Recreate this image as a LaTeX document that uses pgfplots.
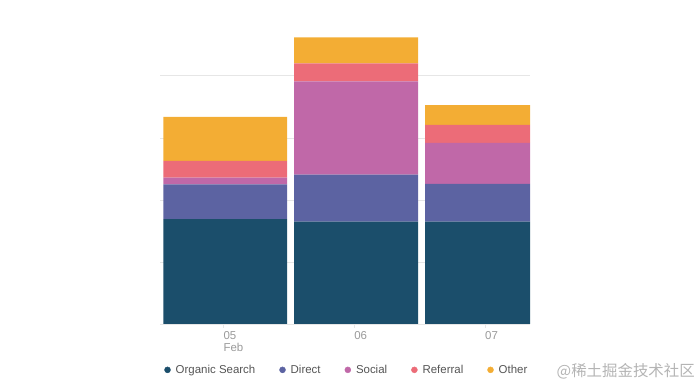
\documentclass[border=0pt]{standalone}
\usepackage{pgfplots}
\pgfplotsset{compat=1.18}
\usepackage{fontspec}
\setmainfont{Liberation Sans}
\newfontfamily\cjk{Noto Sans CJK SC}
\definecolor{c1}{HTML}{1B4E6B}
\definecolor{c2}{HTML}{5C63A2}
\definecolor{c3}{HTML}{C068A8}
\definecolor{c4}{HTML}{EC6C78}
\definecolor{c5}{HTML}{F3AD34}
\definecolor{gridc}{HTML}{E6E6E6}
\definecolor{tickc}{HTML}{9A9A9A}
\definecolor{legc}{HTML}{555555}
\definecolor{wmc}{HTML}{B4B4B4}
\begin{document}
\begin{tikzpicture}
\path[use as bounding box] (0,0) rectangle (700bp,392bp);
\begin{axis}[
  at={(160bp,68bp)}, anchor=south west,
  scale only axis, width=370bp, height=294bp,
  xmin=-0.484, xmax=2.344, ymin=0, ymax=474,
  ybar stacked, bar width=0.947,
  axis line style={draw=none},
  ytick={0,100,200,300,400}, yticklabels={}, ytick style={draw=none},
  ymajorgrids, grid style={gridc, line width=0.8pt},
  xtick={0,1,2}, xticklabels={05\\Feb,06,07},
  xtick pos=bottom, tick align=outside, major tick length=4bp,
  xtick style={gridc, line width=0.8pt},
  xticklabel style={anchor=north west, inner xsep=0pt, align=left, text=tickc, font=\fontsize{11.5}{12}\selectfont},
  legend columns=5,
  legend style={draw=none, fill=none, at={(0.505,-0.156)}, anchor=center,
    font=\fontsize{11.5}{13}\selectfont, text=legc,
    /tikz/every odd column/.append style={column sep=3bp},
    /tikz/every even column/.append style={column sep=22bp}},
]
\addplot[fill=c1, draw=none, forget plot] coordinates {(0.015,169) (1.015,165) (2.015,165)};
\addplot[fill=c2, draw=none, forget plot] coordinates {(0.015,56) (1.015,76) (2.015,61)};
\addplot[fill=c3, draw=none, forget plot] coordinates {(0.015,11) (1.015,150) (2.015,66)};
\addplot[fill=c4, draw=none, forget plot] coordinates {(0.015,27) (1.015,29) (2.015,29)};
\addplot[fill=c5, draw=none, forget plot] coordinates {(0.015,71) (1.015,42) (2.015,32)};
\addlegendimage{legend image code/.code={\fill[c1] (0pt,0pt) circle (3bp);}}
\addlegendentry{Organic Search}
\addlegendimage{legend image code/.code={\fill[c2] (0pt,0pt) circle (3bp);}}
\addlegendentry{Direct}
\addlegendimage{legend image code/.code={\fill[c3] (0pt,0pt) circle (3bp);}}
\addlegendentry{Social}
\addlegendimage{legend image code/.code={\fill[c4] (0pt,0pt) circle (3bp);}}
\addlegendentry{Referral}
\addlegendimage{legend image code/.code={\fill[c5] (0pt,0pt) circle (3bp);}}
\addlegendentry{Other}
\end{axis}
\node[anchor=east, text=wmc, font=\cjk\fontsize{15.5}{16}\selectfont, inner sep=0pt] at (695bp,21bp) {@稀土掘金技术社区};
\end{tikzpicture}
\end{document}
